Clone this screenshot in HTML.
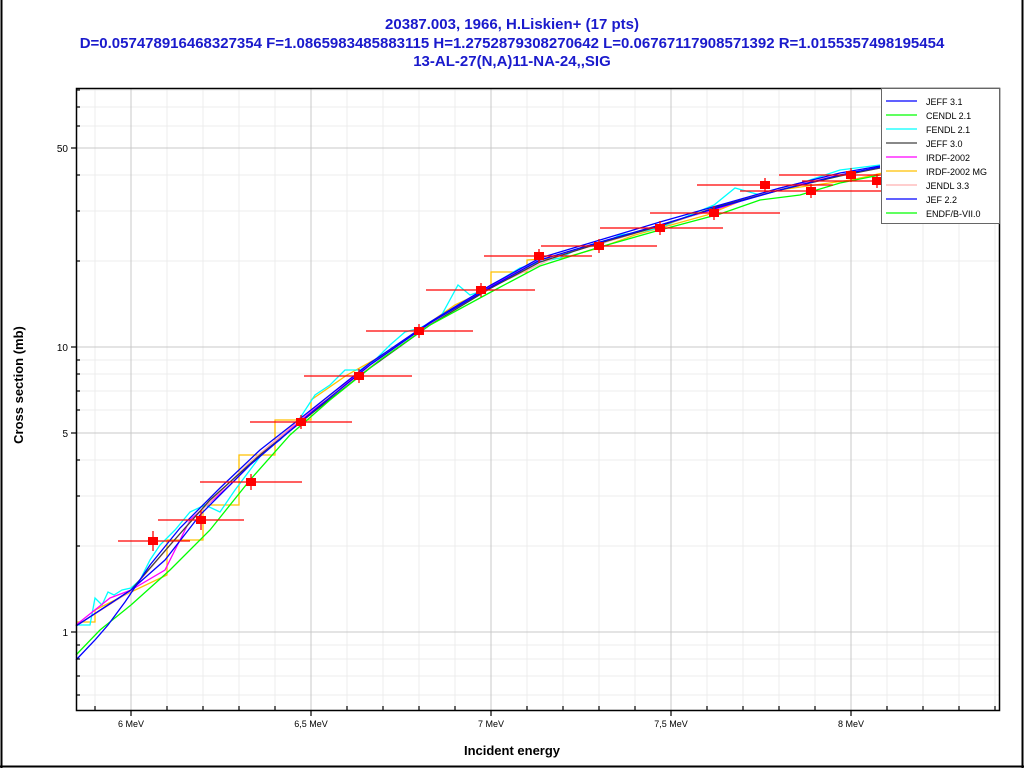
<!DOCTYPE html>
<html><head><meta charset="utf-8"><style>
body{margin:0;background:#fff;}
svg{display:block;font-family:"Liberation Sans",sans-serif;}
</style></head><body>
<svg width="1024" height="768" xmlns="http://www.w3.org/2000/svg">
<rect x="0" y="0" width="1024" height="768" fill="#fff"/>
<line x1="1.5" y1="0" x2="1.5" y2="768" stroke="#000" stroke-width="2"/>
<line x1="1022.5" y1="0" x2="1022.5" y2="768" stroke="#000" stroke-width="2"/>
<line x1="0" y1="766.5" x2="1024" y2="766.5" stroke="#000" stroke-width="2"/>
<g fill="#1a1acc" font-size="15" font-weight="bold" text-anchor="middle">
<text x="512" y="29">20387.003, 1966, H.Liskien+ (17 pts)</text>
<text x="512" y="48">D=0.057478916468327354 F=1.0865983485883115 H=1.2752879308270642 L=0.06767117908571392 R=1.0155357498195454</text>
<text x="512" y="66">13-AL-27(N,A)11-NA-24,,SIG</text>
</g>
<g id="grid" stroke="#ececec" stroke-width="1">
<line x1="95" y1="88" x2="95" y2="710"/><line x1="167" y1="88" x2="167" y2="710"/><line x1="203" y1="88" x2="203" y2="710"/><line x1="239" y1="88" x2="239" y2="710"/><line x1="275" y1="88" x2="275" y2="710"/>
<line x1="347" y1="88" x2="347" y2="710"/><line x1="383" y1="88" x2="383" y2="710"/><line x1="419" y1="88" x2="419" y2="710"/><line x1="455" y1="88" x2="455" y2="710"/>
<line x1="527" y1="88" x2="527" y2="710"/><line x1="563" y1="88" x2="563" y2="710"/><line x1="599" y1="88" x2="599" y2="710"/><line x1="635" y1="88" x2="635" y2="710"/>
<line x1="707" y1="88" x2="707" y2="710"/><line x1="743" y1="88" x2="743" y2="710"/><line x1="779" y1="88" x2="779" y2="710"/><line x1="815" y1="88" x2="815" y2="710"/>
<line x1="887" y1="88" x2="887" y2="710"/><line x1="923" y1="88" x2="923" y2="710"/><line x1="959" y1="88" x2="959" y2="710"/><line x1="995" y1="88" x2="995" y2="710"/>
<line x1="76" y1="695" x2="1000" y2="695"/><line x1="76" y1="676" x2="1000" y2="676"/><line x1="76" y1="659" x2="1000" y2="659"/><line x1="76" y1="645" x2="1000" y2="645"/>
<line x1="76" y1="546" x2="1000" y2="546"/><line x1="76" y1="496" x2="1000" y2="496"/><line x1="76" y1="460" x2="1000" y2="460"/><line x1="76" y1="410" x2="1000" y2="410"/><line x1="76" y1="391" x2="1000" y2="391"/><line x1="76" y1="374" x2="1000" y2="374"/><line x1="76" y1="360" x2="1000" y2="360"/>
<line x1="76" y1="261" x2="1000" y2="261"/><line x1="76" y1="211" x2="1000" y2="211"/><line x1="76" y1="175" x2="1000" y2="175"/><line x1="76" y1="126" x2="1000" y2="126"/><line x1="76" y1="107" x2="1000" y2="107"/><line x1="76" y1="90" x2="1000" y2="90"/>
</g>
<g stroke="#c8c8c8" stroke-width="1">
<line x1="131" y1="88" x2="131" y2="710"/><line x1="311" y1="88" x2="311" y2="710"/><line x1="491" y1="88" x2="491" y2="710"/><line x1="671" y1="88" x2="671" y2="710"/><line x1="851" y1="88" x2="851" y2="710"/>
<line x1="76" y1="632" x2="1000" y2="632"/><line x1="76" y1="433" x2="1000" y2="433"/><line x1="76" y1="347" x2="1000" y2="347"/><line x1="76" y1="148" x2="1000" y2="148"/>
</g>
<g fill="none" stroke-width="1.3">
<polyline stroke="#ffc000" points="76,622 95,622 95,610 131,592 167,575 167,540 203,540 203,505 239,505 239,455 275,455 275,420 311,420 311,400 347,375 383,355 419,330 455,305 491,288 491,272 527,272 527,260 563,258 599,248 635,235 671,225 707,215 743,200 779,190 815,185 851,180 887,172"/>
<polyline stroke="#00ffff" points="76,625 90,625 95,598 102,605 108,592 114,595 122,590 131,588 140,580 150,560 160,545 175,530 190,512 205,505 220,512 235,490 250,470 265,450 280,440 300,418 315,395 330,385 345,370 360,370 375,360 390,345 405,332 420,328 440,318 458,285 470,295 485,290 500,280 520,268 540,262 560,258 580,248 600,245 620,235 640,232 660,228 690,215 714,205 735,188 760,195 780,190 810,180 840,170 880,165"/>
<polyline stroke="#ff00ff" points="76,625 110,598 131,590 165,570 190,520 230,485 270,445 311,412 360,372 420,330 480,292 540,260 600,243 660,225 720,208 780,188 840,175 880,168"/>
<polyline stroke="#ffb0b0" points="76,626 131,591 190,522 250,462 311,410 380,360 440,318 500,283 560,255 620,238 680,220 740,200 800,183 880,168"/>
<polyline stroke="#404040" points="76,626 131,590 170,545 210,500 260,455 311,414 370,368 430,325 491,288 540,262 600,243 660,226 720,206 780,190 840,176 880,168"/>
<polyline stroke="#00ff00" points="76,655 100,630 131,605 170,570 210,530 250,480 290,435 330,400 380,360 430,325 491,292 540,266 600,247 660,230 720,214 760,200 800,195 840,183 880,175"/>
<polyline stroke="#0000ff" points="76,626 131,590 165,560 200,515 250,465 311,413 370,365 430,323 491,287 540,260 600,242 660,225 720,207 780,190 840,175 880,167"/>
<polyline stroke="#0000ff" points="76,660 95,640 108,625 125,602 150,565 180,528 220,488 260,450 311,410 370,363 430,322 491,285 540,258 600,240 660,222 720,205 780,188 840,173 880,166"/>
</g>
<g stroke="#ff0000" stroke-width="1.3">
<line x1="118" y1="541" x2="190" y2="541"/><line x1="158" y1="520" x2="244" y2="520"/><line x1="200" y1="482" x2="302" y2="482"/><line x1="250" y1="422" x2="352" y2="422"/><line x1="304" y1="376" x2="412" y2="376"/><line x1="366" y1="331" x2="473" y2="331"/><line x1="426" y1="290" x2="535" y2="290"/><line x1="484" y1="256" x2="592" y2="256"/><line x1="541" y1="246" x2="657" y2="246"/><line x1="600" y1="228" x2="723" y2="228"/><line x1="650" y1="213" x2="780" y2="213"/><line x1="697" y1="185" x2="833" y2="185"/><line x1="740" y1="191" x2="882" y2="191"/><line x1="779" y1="175" x2="882" y2="175"/><line x1="802" y1="181" x2="882" y2="181"/>
<line x1="153" y1="531" x2="153" y2="551"/><line x1="201" y1="510" x2="201" y2="530"/><line x1="251" y1="474" x2="251" y2="490"/><line x1="301" y1="415" x2="301" y2="429"/><line x1="359" y1="369" x2="359" y2="383"/><line x1="419" y1="324" x2="419" y2="338"/><line x1="481" y1="283" x2="481" y2="297"/><line x1="539" y1="249" x2="539" y2="263"/><line x1="599" y1="239" x2="599" y2="253"/><line x1="660" y1="221" x2="660" y2="235"/><line x1="714" y1="206" x2="714" y2="220"/><line x1="765" y1="178" x2="765" y2="192"/><line x1="811" y1="184" x2="811" y2="198"/><line x1="851" y1="168" x2="851" y2="182"/><line x1="877" y1="174" x2="877" y2="188"/>
</g>
<g fill="#ff0000">
<rect x="148" y="537" width="10" height="8"/><rect x="196" y="516" width="10" height="8"/><rect x="246" y="478" width="10" height="8"/><rect x="296" y="418" width="10" height="8"/><rect x="354" y="372" width="10" height="8"/><rect x="414" y="327" width="10" height="8"/><rect x="476" y="286" width="10" height="8"/><rect x="534" y="252" width="10" height="8"/><rect x="594" y="242" width="10" height="8"/><rect x="655" y="224" width="10" height="8"/><rect x="709" y="209" width="10" height="8"/><rect x="760" y="181" width="10" height="8"/><rect x="806" y="187" width="10" height="8"/><rect x="846" y="171" width="10" height="8"/><rect x="872" y="177" width="10" height="8"/>
</g>
<rect x="76.5" y="88.5" width="923" height="622" fill="none" stroke="#000" stroke-width="1.5"/>
<g stroke="#000" stroke-width="1.2">
<line x1="71" y1="632" x2="76" y2="632"/><line x1="71" y1="433" x2="76" y2="433"/><line x1="71" y1="347" x2="76" y2="347"/><line x1="71" y1="148" x2="76" y2="148"/>
<line x1="76" y1="695" x2="80" y2="695"/><line x1="76" y1="676" x2="80" y2="676"/><line x1="76" y1="659" x2="80" y2="659"/><line x1="76" y1="645" x2="80" y2="645"/><line x1="76" y1="546" x2="80" y2="546"/><line x1="76" y1="496" x2="80" y2="496"/><line x1="76" y1="460" x2="80" y2="460"/><line x1="76" y1="410" x2="80" y2="410"/><line x1="76" y1="391" x2="80" y2="391"/><line x1="76" y1="374" x2="80" y2="374"/><line x1="76" y1="360" x2="80" y2="360"/><line x1="76" y1="261" x2="80" y2="261"/><line x1="76" y1="211" x2="80" y2="211"/><line x1="76" y1="175" x2="80" y2="175"/><line x1="76" y1="126" x2="80" y2="126"/><line x1="76" y1="107" x2="80" y2="107"/><line x1="76" y1="90" x2="80" y2="90"/>
<line x1="131" y1="710" x2="131" y2="716"/><line x1="311" y1="710" x2="311" y2="716"/><line x1="491" y1="710" x2="491" y2="716"/><line x1="671" y1="710" x2="671" y2="716"/><line x1="851" y1="710" x2="851" y2="716"/>
<line x1="95" y1="710" x2="95" y2="706"/><line x1="167" y1="710" x2="167" y2="706"/><line x1="203" y1="710" x2="203" y2="706"/><line x1="239" y1="710" x2="239" y2="706"/><line x1="275" y1="710" x2="275" y2="706"/><line x1="347" y1="710" x2="347" y2="706"/><line x1="383" y1="710" x2="383" y2="706"/><line x1="419" y1="710" x2="419" y2="706"/><line x1="455" y1="710" x2="455" y2="706"/><line x1="527" y1="710" x2="527" y2="706"/><line x1="563" y1="710" x2="563" y2="706"/><line x1="599" y1="710" x2="599" y2="706"/><line x1="635" y1="710" x2="635" y2="706"/><line x1="707" y1="710" x2="707" y2="706"/><line x1="743" y1="710" x2="743" y2="706"/><line x1="779" y1="710" x2="779" y2="706"/><line x1="815" y1="710" x2="815" y2="706"/><line x1="887" y1="710" x2="887" y2="706"/><line x1="923" y1="710" x2="923" y2="706"/><line x1="959" y1="710" x2="959" y2="706"/><line x1="995" y1="710" x2="995" y2="706"/>
</g>
<g font-size="10" fill="#000">
<text x="68" y="636" text-anchor="end">1</text><text x="68" y="437" text-anchor="end">5</text><text x="68" y="351" text-anchor="end">10</text><text x="68" y="152" text-anchor="end">50</text>
<g text-anchor="middle" font-size="9"><text x="131" y="727">6 MeV</text><text x="311" y="727">6,5 MeV</text><text x="491" y="727">7 MeV</text><text x="671" y="727">7,5 MeV</text><text x="851" y="727">8 MeV</text></g>
</g>
<text x="512" y="755" font-size="13" font-weight="bold" text-anchor="middle">Incident energy</text>
<text transform="translate(23,385) rotate(-90)" font-size="13" font-weight="bold" text-anchor="middle">Cross section (mb)</text>
<rect x="881.5" y="88.5" width="118" height="135" fill="#fff" stroke="#666" stroke-width="1"/>
<g stroke-width="1.3">
<line x1="886" y1="101" x2="917" y2="101" stroke="#0000ff"/>
<line x1="886" y1="115" x2="917" y2="115" stroke="#00ff00"/>
<line x1="886" y1="129" x2="917" y2="129" stroke="#00ffff"/>
<line x1="886" y1="143" x2="917" y2="143" stroke="#404040"/>
<line x1="886" y1="157" x2="917" y2="157" stroke="#ff00ff"/>
<line x1="886" y1="171" x2="917" y2="171" stroke="#ffc000"/>
<line x1="886" y1="185" x2="917" y2="185" stroke="#ffb0b0"/>
<line x1="886" y1="199" x2="917" y2="199" stroke="#0000ff"/>
<line x1="886" y1="213" x2="917" y2="213" stroke="#00ff00"/>
</g>
<g font-size="9" fill="#000">
<text x="926" y="105">JEFF 3.1</text><text x="926" y="119">CENDL 2.1</text><text x="926" y="133">FENDL 2.1</text><text x="926" y="147">JEFF 3.0</text><text x="926" y="161">IRDF-2002</text><text x="926" y="175">IRDF-2002 MG</text><text x="926" y="189">JENDL 3.3</text><text x="926" y="203">JEF 2.2</text><text x="926" y="217">ENDF/B-VII.0</text>
</g>
</svg>
</body></html>
